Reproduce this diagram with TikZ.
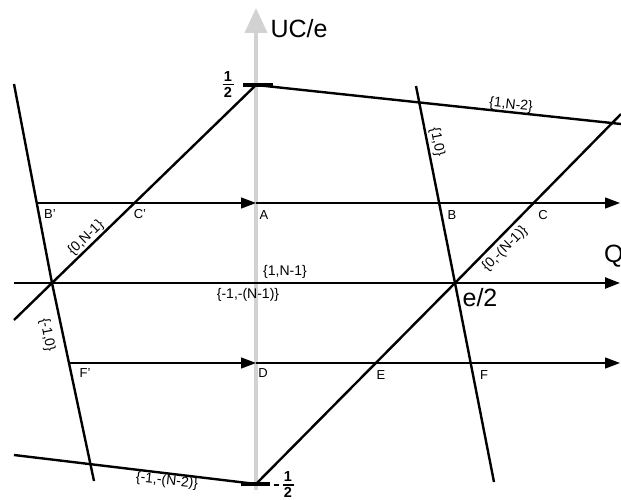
\documentclass[tikz,border=0pt]{standalone}
\usepackage{fontspec}
\setmainfont{Liberation Sans}
\usetikzlibrary{arrows.meta}
\begin{document}
\begin{tikzpicture}[x=1pt,y=-1pt,
  heavy/.style={line width=2.4pt},
  light/.style={line width=1.3pt},
  arr/.style={-{Triangle[length=15pt,width=11pt]}},
  lbl/.style={font=\fontsize{14}{14}\selectfont,inner sep=0pt},
  ptl/.style={font=\fontsize{13}{13}\selectfont,inner sep=0pt},
  big/.style={font=\fontsize{25}{25}\selectfont,inner sep=0pt},
  frc/.style={font=\fontsize{14.5}{14.5}\selectfont\bfseries,inner sep=0pt},
  fbar/.style={line width=1.5pt}]
\useasboundingbox (0,0) rectangle (621,500);
\clip (0,0) rectangle (621,500);
% key points
\coordinate (T) at (256,85);
\coordinate (Bt) at (256,484);
\coordinate (L) at (52,283);
\coordinate (R) at (455,283);
\coordinate (ldA) at (14,320);
\coordinate (rdA) at (621,114);
\coordinate (tlE) at (621,124);
\coordinate (blS) at (14,455);
\coordinate (lsT) at (14,84);
\coordinate (lsB) at (94,481);
\coordinate (rsT) at (416,86);
\coordinate (rsB) at (494,482);
\coordinate (qS) at (14,283);
\coordinate (qE) at (620,283);
\coordinate (vS) at (256,490);
\coordinate (vE) at (256,8);
\coordinate (h1S) at (38,203);
\coordinate (A) at (256,203);
\coordinate (h1E) at (620,203);
\coordinate (h2S) at (70,363);
\coordinate (D) at (256,363);
\coordinate (h2E) at (620,363);
% vertical gray axis
\draw[line width=4pt,color=gray!35,-{Triangle[length=25pt,width=22pt]}] (vS) -- (vE);
% Q axis
\draw[heavy,arr] (qS) -- (qE);
% thin horizontal paths
\draw[light,arr] (h1S) -- (A);
\draw[light,arr] (A) -- (h1E);
\draw[light,arr] (h2S) -- (D);
\draw[light,arr] (D) -- (h2E);
% boundary lines
\draw[heavy] (ldA) -- (L) -- (T);
\draw[heavy] (Bt) -- (R) -- (rdA);
\draw[heavy] (T) -- (tlE);
\draw[heavy] (blS) -- (Bt);
\draw[heavy] (lsT) -- (L) -- (lsB);
\draw[heavy] (rsT) -- (R) -- (rsB);
% ticks
\draw[line width=3.5pt] (243,85) -- (273,85);
\draw[line width=3.5pt] (241,484) -- (270,484);
% axis labels
\node[big] (uce) at (299,29) {UC/e};
\node[big,anchor=west] (qlab) at (604,256) {Q};
\node[big] (e2) at (480,298) {e/2};
% fraction 1/2
\node[frc] (hn) at (228,77) {1};
\node[frc] (hd) at (228,92) {2};
\draw[fbar] (222.5,84.5) -- (233.5,84.5);
% fraction -1/2
\draw[fbar] (273.5,485) -- (279,485);
\node[frc] (mn) at (288,477) {1};
\node[frc] (md) at (288,492.5) {2};
\draw[fbar] (282.5,485) -- (293.5,485);
% point labels
\node[ptl] (lA) at (264,215) {A};
\node[ptl] (lBp) at (50,214) {B'};
\node[ptl] (lCp) at (140,214) {C'};
\node[ptl] (lB) at (452,215) {B};
\node[ptl] (lC) at (543,215) {C};
\node[ptl] (lD) at (263,373) {D};
\node[ptl] (lFp) at (85,373) {F'};
\node[ptl] (lE) at (381,375) {E};
\node[ptl] (lF) at (484,375) {F};
% region labels
\node[lbl] (r1) at (285,272) {\{1,N-1\}};
\node[lbl] (r2) at (248,295) {\{-1,-(N-1)\}};
\node[lbl,rotate=-6] (r3) at (511,105) {\{1,N-2\}};
\node[lbl,rotate=-79] (r4) at (437,142) {\{1,0\}};
\node[lbl,rotate=44] (r5) at (86,238) {\{0,N-1\}};
\node[lbl,rotate=45] (r6) at (505,249) {\{0,-(N-1)\}};
\node[lbl,rotate=-79] (r7) at (47,335) {\{-1,0\}};
\node[lbl,rotate=-6] (r8) at (167,481) {\{-1,-(N-2)\}};
\end{tikzpicture}
\end{document}
